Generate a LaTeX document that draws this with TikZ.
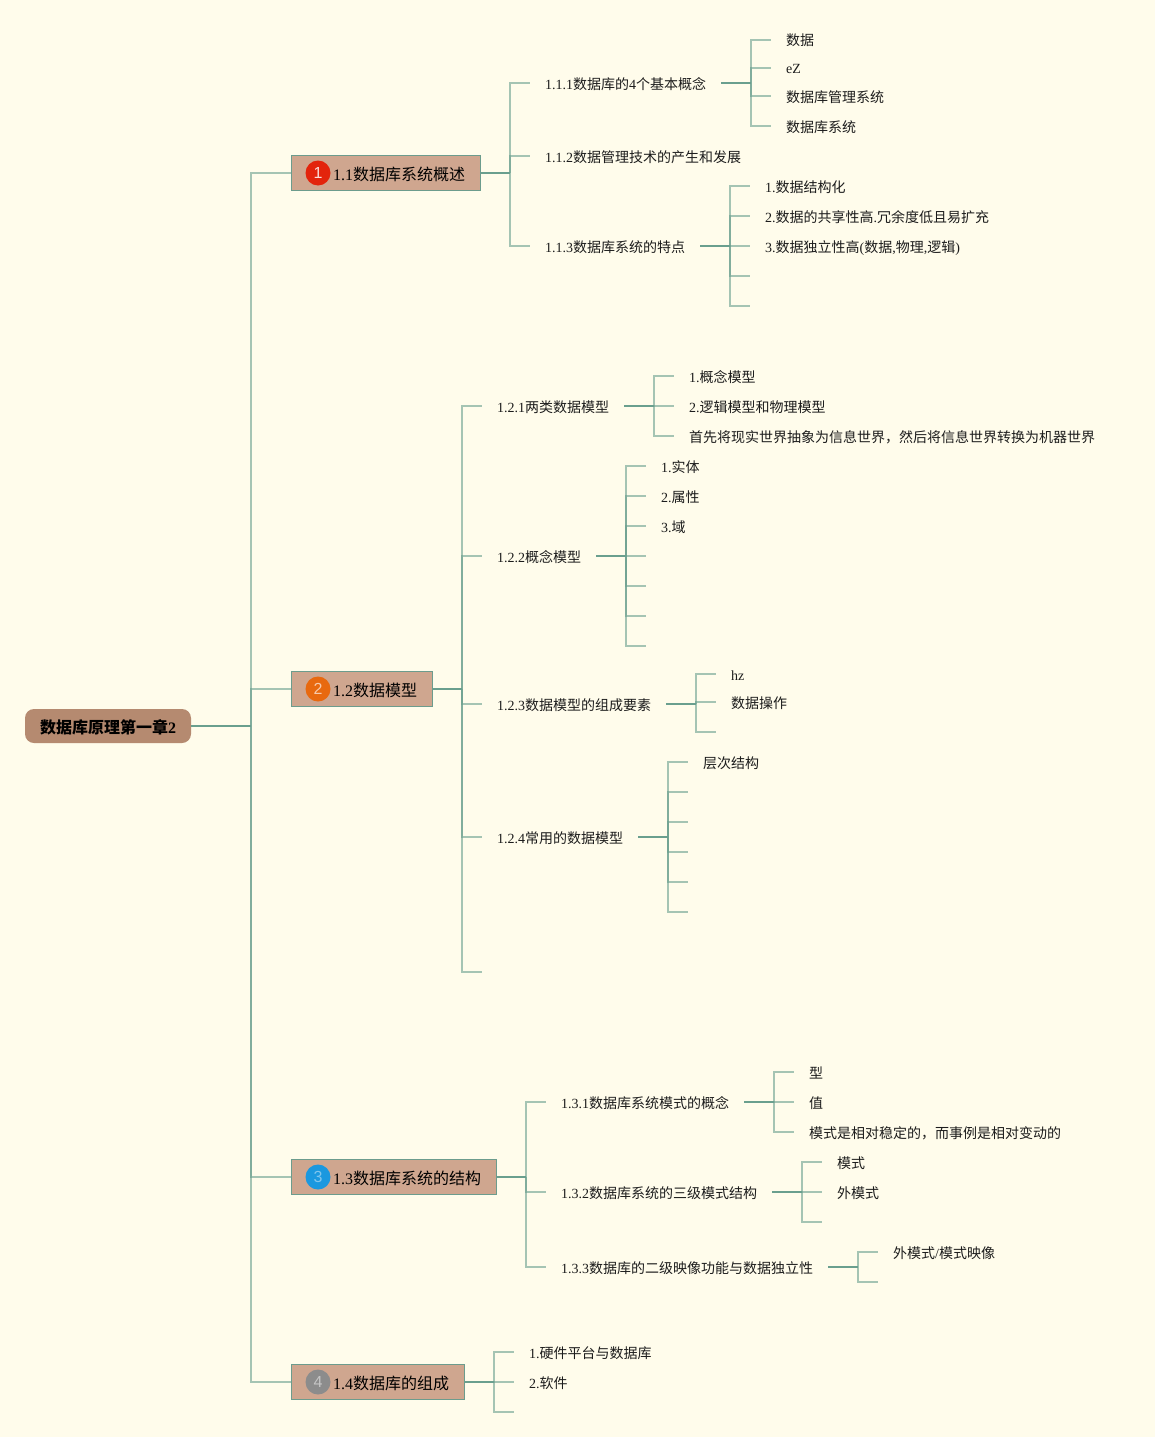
\documentclass[tikz,border=0pt]{standalone}
\usepackage{fontspec}
\setmainfont{Liberation Serif}
\newfontfamily\cjk{Noto Sans CJK SC}
\newfontfamily\numf{Liberation Sans}
\newcommand\cj[1]{{\cjk #1}}
\definecolor{bgc}{HTML}{FFFCEB}
\definecolor{dark}{HTML}{6A9F8E}
\definecolor{boxf}{HTML}{CFA68F}
\definecolor{rootf}{HTML}{B58A70}
\definecolor{inkc}{HTML}{1C1C1C}
\definecolor{redb}{HTML}{E3240C}
\definecolor{orab}{HTML}{E8690F}
\definecolor{blub}{HTML}{1B98DF}
\definecolor{grab}{HTML}{8C8C8C}
\tikzset{
 rootbox/.style={draw=none,fill=rootf,rounded corners=9pt,minimum width=166pt,minimum height=34pt,inner sep=0pt,font=\fontsize{16}{16}\selectfont\bfseries,text=black,text height=18pt,text depth=4pt},
 topicbox/.style={draw=dark!90!gray,line width=1pt,fill=boxf,anchor=west,minimum height=35pt,inner sep=0pt},
 badge/.style={circle,minimum size=25pt,inner sep=0pt,font=\fontsize{16}{16}\selectfont\numf},
 toptext/.style={anchor=west,inner sep=0pt,font=\fontsize{16}{16}\selectfont,text=black,text height=18pt,text depth=4pt},
 leaf/.style={anchor=west,inner sep=0pt,font=\fontsize{14}{14}\selectfont,text=inkc,text height=16pt,text depth=4pt},
 hole/.style={anchor=west,inner sep=0pt,minimum size=0pt},
 stub/.style={draw=dark,draw opacity=0.6,line width=1.3pt},
 trunk/.style={draw=dark,line width=1.6pt},
}
% #1 junction coordinate, #2 comma list of node names
\newcommand\fan[2]{\foreach \c in {#2}{\draw[stub] (#1) |- ([xshift=-15pt]\c.west);}}
\begin{document}
\begin{tikzpicture}[x=1pt,y=-1pt]
\fill[bgc] (0,0) rectangle (1155,1437);
\useasboundingbox (0,0) rectangle (1155,1437);

% root
\node[rootbox] (root) at (108,726) {\cj{数据库原理第一章}2};

% topics
\node[topicbox,minimum width=188.5pt] (t1) at (291,173) {};
\node[topicbox,minimum width=140.5pt] (t2) at (291,689) {};
\node[topicbox,minimum width=204.5pt] (t3) at (291,1177) {};
\node[topicbox,minimum width=172.5pt] (t4) at (291,1382) {};
\node[badge,fill=redb,text=white!85!redb] (b1) at (318,173) {1};
\node[badge,fill=orab,text=white!65!orab] (b2) at (318,689) {2};
\node[badge,fill=blub,text=white!45!blub] (b3) at (318,1177) {3};
\node[badge,fill=grab,text=white!50!grab] (b4) at (318,1382) {4};
\node[toptext] (tt1) at (333,173) {1.1\cj{数据库系统概述}};
\node[toptext] (tt2) at (333,689) {1.2\cj{数据模型}};
\node[toptext] (tt3) at (333,1177) {1.3\cj{数据库系统的结构}};
\node[toptext] (tt4) at (333,1382) {1.4\cj{数据库的组成}};

\coordinate (j0) at (251,726);
\foreach \c in {t1,t2,t3,t4}{\draw[stub] (j0) |- (\c.west);}
\draw[trunk] (root.east) -- (j0);

% 1.1
\coordinate (j1) at (510,173);
\node[leaf] (a1) at (545,83) {1.1.1\cj{数据库的}4\cj{个基本概念}};
\node[leaf] (a2) at (545,156) {1.1.2\cj{数据管理技术的产生和发展}};
\node[leaf] (a3) at (545,246) {1.1.3\cj{数据库系统的特点}};
\fan{j1}{a1,a2,a3}
\draw[trunk] (t1.east) -- (j1);

\coordinate (j11) at (751,83);
\coordinate (o11) at (721,83);
\node[leaf] (a11) at (786,40) {\cj{数据}};
\node[leaf] (a12) at (786,68) {eZ};
\node[leaf] (a13) at (786,96) {\cj{数据库管理系统}};
\node[leaf] (a14) at (786,126) {\cj{数据库系统}};
\fan{j11}{a11,a12,a13,a14}
\draw[trunk] (o11) -- (j11);

\coordinate (j13) at (730,246);
\coordinate (o13) at (700,246);
\node[leaf] (a31) at (765,186) {1.\cj{数据结构化}};
\node[leaf] (a32) at (765,216) {2.\cj{数据的共享性高}.\cj{冗余度低且易扩充}};
\node[leaf] (a33) at (765,246) {3.\cj{数据独立性高}(\cj{数据},\cj{物理},\cj{逻辑})};
\node[hole] (a34) at (765,276) {};
\node[hole] (a35) at (765,306) {};
\fan{j13}{a31,a32,a33,a34,a35}
\draw[trunk] (o13) -- (j13);

% 1.2
\coordinate (j2) at (462,689);
\node[leaf] (b1x) at (497,406) {1.2.1\cj{两类数据模型}};
\node[leaf] (b2x) at (497,556) {1.2.2\cj{概念模型}};
\node[leaf] (b3x) at (497,704) {1.2.3\cj{数据模型的组成要素}};
\node[leaf] (b4x) at (497,837) {1.2.4\cj{常用的数据模型}};
\node[hole] (b5x) at (497,972) {};
\fan{j2}{b1x,b2x,b3x,b4x,b5x}
\draw[trunk] (t2.east) -- (j2);

\coordinate (j21) at (654,406);
\coordinate (o21) at (624,406);
\node[leaf] (c11) at (689,376) {1.\cj{概念模型}};
\node[leaf] (c12) at (689,406) {2.\cj{逻辑模型和物理模型}};
\node[leaf] (c13) at (689,436) {\cj{首先将现实世界抽象为信息世界，然后将信息世界转换为机器世界}};
\fan{j21}{c11,c12,c13}
\draw[trunk] (o21) -- (j21);

\coordinate (j22) at (626,556);
\coordinate (o22) at (596,556);
\node[leaf] (c21) at (661,466) {1.\cj{实体}};
\node[leaf] (c22) at (661,496) {2.\cj{属性}};
\node[leaf] (c23) at (661,526) {3.\cj{域}};
\node[hole] (c24) at (661,556) {};
\node[hole] (c25) at (661,586) {};
\node[hole] (c26) at (661,616) {};
\node[hole] (c27) at (661,646) {};
\fan{j22}{c21,c22,c23,c24,c25,c26,c27}
\draw[trunk] (o22) -- (j22);

\coordinate (j23) at (696,704);
\coordinate (o23) at (666,704);
\node[leaf] (c31) at (731,674) {hz};
\node[leaf] (c32) at (731,702) {\cj{数据操作}};
\node[hole] (c33) at (731,732) {};
\fan{j23}{c31,c32,c33}
\draw[trunk] (o23) -- (j23);

\coordinate (j24) at (668,837);
\coordinate (o24) at (638,837);
\node[leaf] (c41) at (703,762) {\cj{层次结构}};
\node[hole] (c42) at (703,792) {};
\node[hole] (c43) at (703,822) {};
\node[hole] (c44) at (703,852) {};
\node[hole] (c45) at (703,882) {};
\node[hole] (c46) at (703,912) {};
\fan{j24}{c41,c42,c43,c44,c45,c46}
\draw[trunk] (o24) -- (j24);

% 1.3
\coordinate (j3) at (526,1177);
\node[leaf] (d1) at (561,1102) {1.3.1\cj{数据库系统模式的概念}};
\node[leaf] (d2) at (561,1192) {1.3.2\cj{数据库系统的三级模式结构}};
\node[leaf] (d3) at (561,1267) {1.3.3\cj{数据库的二级映像功能与数据独立性}};
\fan{j3}{d1,d2,d3}
\draw[trunk] (t3.east) -- (j3);

\coordinate (j31) at (774,1102);
\coordinate (o31) at (744,1102);
\node[leaf] (d11) at (809,1072) {\cj{型}};
\node[leaf] (d12) at (809,1102) {\cj{值}};
\node[leaf] (d13) at (809,1132) {\cj{模式是相对稳定的，而事例是相对变动的}};
\fan{j31}{d11,d12,d13}
\draw[trunk] (o31) -- (j31);

\coordinate (j32) at (802,1192);
\coordinate (o32) at (772,1192);
\node[leaf] (d21) at (837,1162) {\cj{模式}};
\node[leaf] (d22) at (837,1192) {\cj{外模式}};
\node[hole] (d23) at (837,1222) {};
\fan{j32}{d21,d22,d23}
\draw[trunk] (o32) -- (j32);

\coordinate (j33) at (858,1267);
\coordinate (o33) at (828,1267);
\node[leaf] (d31) at (893,1252) {\cj{外模式}/\cj{模式映像}};
\node[hole] (d32) at (893,1282) {};
\fan{j33}{d31,d32}
\draw[trunk] (o33) -- (j33);

% 1.4
\coordinate (j4) at (494,1382);
\node[leaf] (e1) at (529,1352) {1.\cj{硬件平台与数据库}};
\node[leaf] (e2) at (529,1382) {2.\cj{软件}};
\node[hole] (e3) at (529,1412) {};
\fan{j4}{e1,e2,e3}
\draw[trunk] (t4.east) -- (j4);
\end{tikzpicture}
\end{document}
